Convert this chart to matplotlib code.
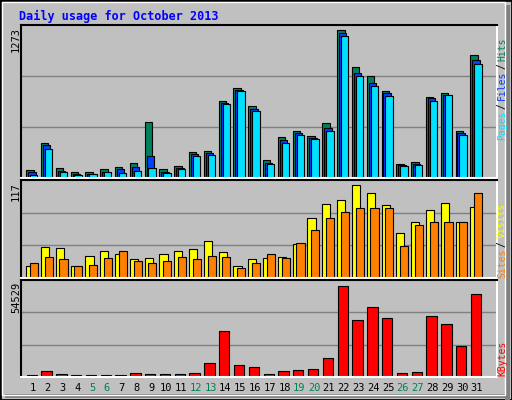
import matplotlib
matplotlib.use('Agg')
import matplotlib.pyplot as plt
from matplotlib.patches import Rectangle
import numpy as np

days = np.arange(1, 32)
weekend = [5, 6, 12, 13, 19, 20, 26, 27]

hits = [68, 297, 85, 51, 51, 76, 93, 127, 467, 76, 102, 221, 229, 645, 755, 602,
        153, 348, 399, 356, 458, 1247, 933, 857, 730, 119, 136, 679, 713, 399, 1035]
files = [51, 280, 59, 34, 34, 51, 76, 93, 187, 51, 85, 204, 212, 628, 738, 577,
         127, 322, 382, 340, 424, 1222, 883, 798, 713, 110, 119, 670, 696, 382, 993]
pages = [25, 246, 51, 25, 34, 51, 42, 59, 85, 42, 76, 187, 195, 620, 735, 560,
         119, 297, 365, 331, 399, 1196, 857, 772, 687, 102, 110, 645, 696, 365, 959]
visits = [14, 37, 36, 15, 27, 33, 29, 23, 24, 29, 32, 35, 45, 31, 15, 23,
          24, 25, 41, 72, 89, 94, 112, 103, 88, 54, 67, 82, 91, 68, 86]
sites = [18, 25, 23, 15, 16, 24, 32, 21, 18, 20, 25, 23, 27, 25, 12, 18,
         29, 24, 42, 58, 72, 79, 85, 85, 84, 39, 64, 68, 67, 67, 102]
kbytes = [1136, 3219, 1704, 1136, 1136, 1136, 1136, 2083, 1704, 1704, 1704, 2083,
          7763, 26507, 6627, 5491, 1704, 3219, 3787, 4355, 11171, 52068, 32756,
          40140, 33891, 2083, 2651, 35027, 30483, 17987, 47523]
max_hits, max_visits, max_kb = 1273, 117, 54529

bg = '#C0C0C0'
c_hits, c_files, c_pages = '#00805C', '#0040FF', '#00E0FF'
c_visits, c_sites, c_kb = '#FFFF00', '#FF8000', '#FF0000'
W, H = 512, 400
mono = 'DejaVu Sans Mono'

fig = plt.figure(figsize=(5.12, 4.0), dpi=100, facecolor=bg)

def px(x0, y0, x1, y1):
    return [x0 / W, 1 - y1 / H, (x1 - x0) / W, (y1 - y0) / H]

# outer frame with bevel
fig.patches.append(Rectangle((0, 0), 1, 1, transform=fig.transFigure, fill=False,
                             edgecolor='black', lw=2))
fig.patches.append(Rectangle((505 / W, 0), 5 / W, 395 / H, transform=fig.transFigure,
                             color='#808080', lw=0))
fig.patches.append(Rectangle((5 / W, 2 / H), 505 / W, 4 / H, transform=fig.transFigure,
                             color='#808080', lw=0))
fig.patches.append(Rectangle((2 / W, 5 / H), 503 / W, 393 / H, transform=fig.transFigure,
                             fill=False, edgecolor='white', lw=1))

fig.text(19 / W, 1 - 16 / H, 'Daily usage for October 2013', color='#0000FF',
         family=mono, fontweight='bold', fontsize=8.5, va='center')

xlim = (0.2, 32.35)

def setup(ax, ymax, grid_n=3):
    ax.set_facecolor(bg)
    ax.set_xlim(*xlim)
    ax.set_ylim(0, ymax)
    ax.set_xticks([])
    ax.set_yticks([])
    for v in np.arange(1, grid_n) * ymax / grid_n:
        ax.axhline(v, color='#808080', lw=1, zorder=0)
    for s in ['top', 'left']:
        ax.spines[s].set_color('black')
        ax.spines[s].set_linewidth(1.5)
    for s in ['bottom', 'right']:
        ax.spines[s].set_color('white')
        ax.spines[s].set_linewidth(1.5)

ax1 = fig.add_axes(px(21, 25, 497, 178))
setup(ax1, max_hits * 1.01)
bw = 0.5
ax1.bar(days - 0.45, hits, width=bw, align='edge', color=c_hits, edgecolor='black', lw=0.8)
ax1.bar(days - 0.32, files, width=bw, align='edge', color=c_files, edgecolor='black', lw=0.8)
ax1.bar(days - 0.19, pages, width=bw, align='edge', color=c_pages, edgecolor='black', lw=0.8)

ax2 = fig.add_axes(px(21, 180, 497, 278))
setup(ax2, max_visits * 1.01)
ax2.bar(days - 0.45, visits, width=0.55, align='edge', color=c_visits, edgecolor='black', lw=0.8)
ax2.bar(days - 0.2, sites, width=0.55, align='edge', color=c_sites, edgecolor='black', lw=0.8)

ax3 = fig.add_axes(px(21, 280, 497, 377))
setup(ax3, max_kb * 1.02)
ax3.bar(days - 0.42, kbytes, width=0.7, align='edge', color=c_kb, edgecolor='black', lw=0.8)

for d in days:
    x = ax3.transData.transform((d, 0))[0] / (W)
    fig.text(x, 1 - 388 / H, str(d), ha='center', va='center', fontsize=7.5,
             family=mono, color=c_hits if d in weekend else 'black')

# left max labels
for y, lab in [(27, str(max_hits)), (182, str(max_visits)), (282, str(max_kb))]:
    fig.text(16 / W, 1 - y / H, lab, rotation=90, ha='center', va='top',
             fontsize=7.5, family=mono)

# right legends (bottom to top)
def legend(parts, y_bottom):
    y = y_bottom
    for txt, col in parts:
        fig.text(502 / W, 1 - y / H, txt, rotation=90, ha='center', va='bottom',
                 fontsize=7, family=mono, color=col)
        y -= len(txt) * 5.6 + 3

legend([('Pages', c_pages), ('/', 'black'), ('Files', c_files), ('/', 'black'),
        ('Hits', c_hits)], 140)
legend([('Sites', c_sites), ('/', 'black'), ('Visits', c_visits)], 278)
legend([('KBytes', c_kb)], 376)

fig.savefig('out.png', dpi=100, facecolor=bg)
